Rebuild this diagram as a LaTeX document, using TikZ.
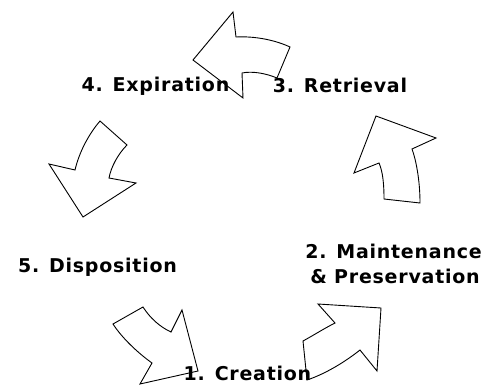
\documentclass[tikz,border=0pt]{standalone}
\usepackage{fontspec}
\setmainfont{DejaVu Sans}[BoldFont={DejaVu Sans Bold}]
\begin{document}
\begin{tikzpicture}[x=1pt,y=-1pt,
  cyclearrow/.style={draw=black,fill=white,line width=0.9pt,line join=miter},
  stage/.style={font=\bfseries\fontsize{19}{21}\selectfont\addfontfeatures{LetterSpace=4},
    inner sep=0pt,anchor=base,text=black}]
\useasboundingbox (0,0) rectangle (490,385);

% curved arrows of the cycle
\path[cyclearrow] (193,60) -- (233,12) -- (236,37)
  .. controls (255,36) and (275,40) .. (290,47) -- (277,78)
  .. controls (265,73) and (252,71) .. (242,73) -- (243,98) -- cycle;

\path[cyclearrow] (376,116) -- (436,138) -- (412,149)
  .. controls (416,160) and (420,180) .. (420,203) -- (384,199)
  .. controls (384,185) and (383,172) .. (379,163) -- (354,173) -- cycle;

\path[cyclearrow] (100,121) -- (127,145)
  .. controls (118,154) and (111,167) .. (109,178) -- (136,183)
  -- (83,217) -- (49,164) -- (75,170)
  .. controls (79,153) and (88,135) .. cycle;

\path[cyclearrow] (143,307)
  .. controls (150,318) and (160,327) .. (171,332) -- (182,310)
  -- (198,371) -- (140,384) -- (152,363)
  .. controls (138,353) and (122,338) .. (113,324) -- cycle;

\path[cyclearrow] (307,380) -- (303,341)
  .. controls (314,335) and (325,328) .. (335,323) -- (318,304)
  -- (381,308) -- (377,371) -- (360,350)
  .. controls (345,362) and (325,374) .. cycle;

% stage labels
\node[stage] (expiration) at (155.5,92) {4. Expiration};
\node[stage] (retrieval) at (340,93) {3. Retrieval};
\node[stage] (disposition) at (97.5,272) {5. Disposition};
\node[stage] (maintenance) at (393.5,258) {2. Maintenance};
\node[stage] (preservation) at (395,283) {\&~Preservation};
\node[stage] (creation) at (247.5,380.5) {1. Creation};
\end{tikzpicture}
\end{document}
